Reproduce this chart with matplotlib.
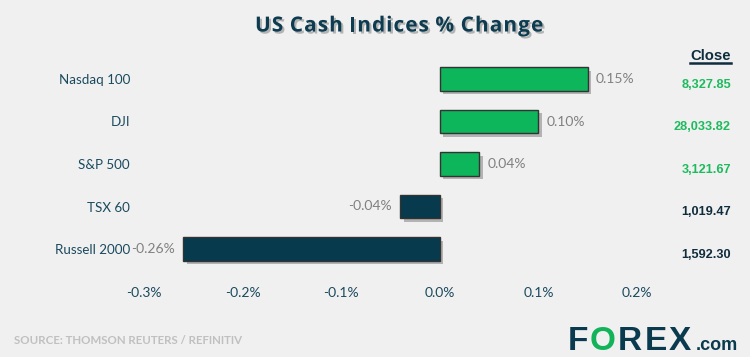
import matplotlib
matplotlib.use("Agg")
import matplotlib.pyplot as plt
import matplotlib.patheffects as pe
from matplotlib.transforms import blended_transform_factory

categories = ["Nasdaq 100", "DJI", "S&P 500", "TSX 60", "Russell 2000"]
changes = [0.15, 0.10, 0.04, -0.04, -0.26]
closes = ["8,327.85", "28,033.82", "3,121.67", "1,019.47", "1,592.30"]
xticks = [-0.3, -0.2, -0.1, 0.0, 0.1, 0.2]
xtick_labels = ["-0.3%", "-0.2%", "-0.1%", "0.0%", "0.1%", "0.2%"]

BG = "#f0f0f0"
GREEN = "#0db55b"
DARK = "#073a4d"
TEXT_DARK = "#1a4a5e"

W, H = 750, 357
fig = plt.figure(figsize=(7.5, 3.57), dpi=100, facecolor=BG)
ax = fig.add_axes([144 / W, 1 - 270.25 / H, 493 / W, 212.5 / H])
ax.set_facecolor(BG)

colors = [GREEN if v >= 0 else DARK for v in changes]
bars = ax.barh(range(len(categories)), changes, height=0.56, color=colors,
               edgecolor="#333333", linewidth=1.0)
for b in bars:
    b.set_path_effects([pe.SimplePatchShadow(offset=(2.5, -2.5), shadow_rgbFace="#000000", alpha=0.25),
                        pe.Normal()])

ax.set_xlim(-0.3, 0.2)
ax.set_ylim(len(categories) - 0.5, -0.5)
for s in ax.spines.values():
    s.set_visible(False)

ax.set_xticks(xticks)
ax.set_xticklabels(xtick_labels, family="Lato", fontsize=10, color=TEXT_DARK)
ax.set_yticks(range(len(categories)))
ax.set_yticklabels(categories, family="Lato", fontsize=9.6, color=TEXT_DARK)
ax.tick_params(axis="both", length=0)
ax.tick_params(axis="x", pad=12)
ax.tick_params(axis="y", pad=10)

# value labels
for i, v in enumerate(changes):
    off = 0.0085 if v >= 0 else -0.0085
    ax.text(v + off, i, f"{v:.2f}%", ha="left" if v >= 0 else "right", va="center",
            family="Lato", fontsize=10, color="#808080")

# Close column
tr = blended_transform_factory(fig.transFigure, ax.transData)
for i, (c, v) in enumerate(zip(closes, changes)):
    ax.text(731 / W, i + 0.13, c, transform=tr, ha="right", va="center",
            family="Liberation Sans", fontweight="bold", fontsize=9.2,
            color="#1dbb5e" if v >= 0 else "#0f2d3d")
fig.text(710.5 / W, 1 - 55.5 / H, "Close", ha="center", va="center",
         family="Liberation Sans", fontweight="bold", fontsize=10.7, color="#0f2d3d")
fig.add_artist(plt.Line2D([690 / W, 731 / W], [1 - 63 / H, 1 - 63 / H], color="#0f2d3d", lw=1.8))

fig.canvas.draw()
renderer = fig.canvas.get_renderer()


def draw_pieces(x0, y, pieces, tracking=0.0, **common):
    x = x0
    for txt, kw in pieces:
        props = dict(common)
        props.update(kw)
        t = fig.text(x / W, y, txt, ha="left", va="baseline", **props)
        bb = t.get_window_extent(renderer=renderer)
        x += bb.width + tracking
    return x


# Title with letter spacing
title = "US Cash Indices % Change"
shadow = [pe.withSimplePatchShadow(offset=(1.5, -1.5), shadow_rgbFace="#000000", alpha=0.25)]
track = 1.0
x = 255
for ch in title:
    if ch == " ":
        x += 5.5
        continue
    t = fig.text(x / W, 1 - 31.5 / H, ch, ha="left", va="baseline", family="Open Sans",
                 fontweight="bold", fontsize=15, color="#0d3b4f", path_effects=shadow)
    bb = t.get_window_extent(renderer=renderer)
    x += bb.width + track

# Source
fig.text(14 / W, 1 - 340 / H, "SOURCE: THOMSON REUTERS / REFINITIV", ha="left", va="center",
         family="Lato", fontweight="bold", fontsize=8.3, color="#c0c0c0")

# Logo
base = 1 - 350 / H
xl = draw_pieces(567.5, base, [("F", dict(color="#0a3a4e")),
                               ("O", dict(color="#13b35a")),
                               ("R", dict(color="#0a3a4e")),
                               ("E", dict(color="#0a3a4e")),
                               ("X", dict(color="#0a3a4e"))],
                 tracking=2.2, family="Liberation Sans", fontweight="bold", fontsize=24)
fig.text((xl + 2) / W, base, ".com", ha="left", va="baseline", family="Liberation Sans",
         fontweight="bold", fontsize=13, color="#0a3a4e")

fig.savefig("out.png", dpi=100, facecolor=BG)
